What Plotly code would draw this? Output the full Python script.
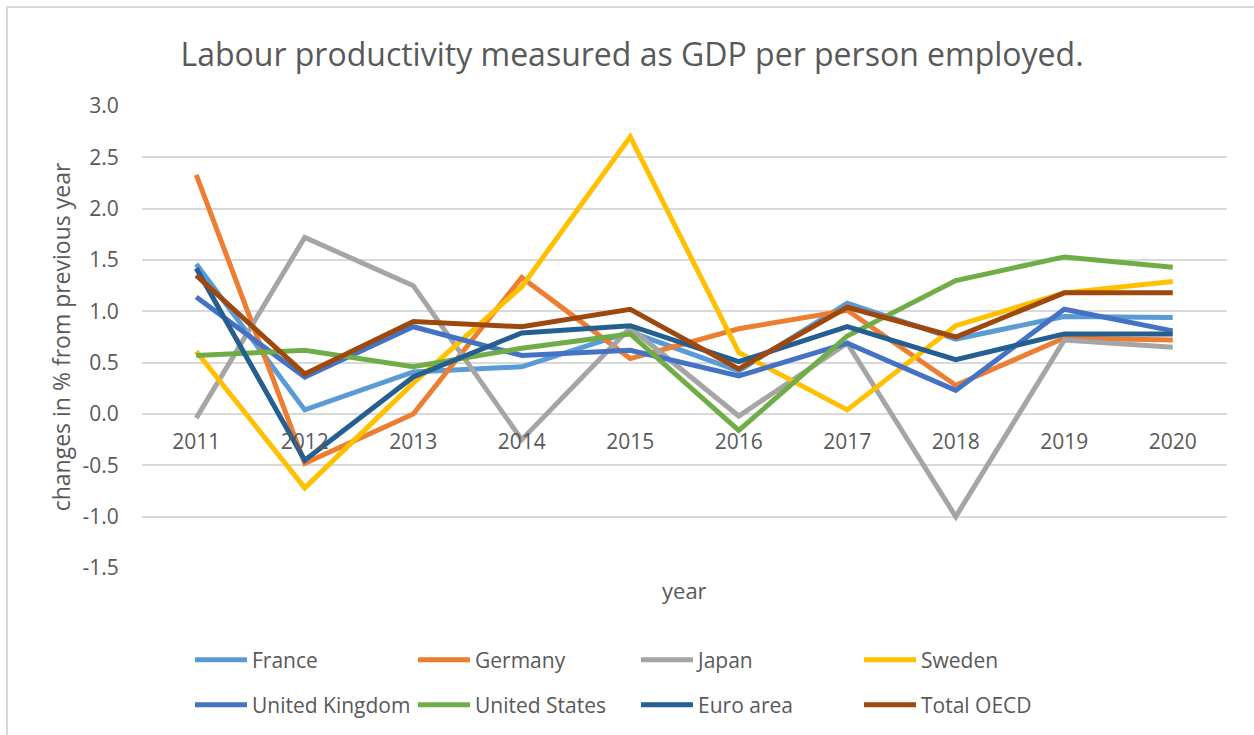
import plotly.graph_objects as go

years = ["2011", "2012", "2013", "2014", "2015", "2016", "2017", "2018", "2019", "2020"]

france = [1.46, 0.04, 0.41, 0.46, 0.80, 0.42, 1.08, 0.73, 0.95, 0.94]
germany = [2.33, -0.48, 0.00, 1.33, 0.54, 0.83, 1.01, 0.28, 0.74, 0.72]
japan = [-0.04, 1.72, 1.25, -0.25, 0.84, -0.02, 0.69, -1.00, 0.72, 0.65]
sweden = [0.61, -0.72, 0.30, 1.24, 2.70, 0.60, 0.04, 0.86, 1.18, 1.29]
united_kingdom = [1.14, 0.36, 0.85, 0.57, 0.62, 0.37, 0.69, 0.23, 1.02, 0.81]
united_states = [0.57, 0.62, 0.46, 0.64, 0.78, -0.16, 0.76, 1.30, 1.53, 1.43]
euro_area = [1.42, -0.45, 0.36, 0.79, 0.86, 0.51, 0.85, 0.53, 0.78, 0.78]
total_oecd = [1.35, 0.39, 0.90, 0.85, 1.02, 0.44, 1.04, 0.75, 1.18, 1.18]

series_names = ["France", "Germany", "Japan", "Sweden",
                "United Kingdom", "United States", "Euro area", "Total OECD"]
series_values = [france, germany, japan, sweden,
                 united_kingdom, united_states, euro_area, total_oecd]
series_colors = ["#5B9BD5", "#ED7D31", "#A5A5A5", "#FFC000",
                 "#4472C4", "#70AD47", "#255E91", "#9E480E"]

y_tick_values = [-1.5, -1.0, -0.5, 0.0, 0.5, 1.0, 1.5, 2.0, 2.5, 3.0]
y_tick_labels = ["-1.5", "-1.0", "-0.5", "0.0", "0.5", "1.0", "1.5", "2.0", "2.5", "3.0"]

FONT = "Open Sans"
TXT = "#595959"

fig = go.Figure()
for i, (name, vals, col) in enumerate(zip(series_names, series_values, series_colors)):
    fig.add_trace(go.Scatter(
        x=years, y=vals, name=name, mode="lines",
        line=dict(color=col, width=5),
        legend="legend" if i < 4 else "legend2",
    ))

W, H = 1254, 735
L, R, T, B = 142, 27, 106, 167
pw, ph = W - L - R, H - T - B

fig.update_layout(
    width=W, height=H,
    margin=dict(l=L, r=R, t=T, b=B),
    paper_bgcolor="white", plot_bgcolor="white",
    font=dict(family=FONT, color=TXT, size=21),
    title=dict(text="Labour productivity measured as GDP per person employed.",
               x=632 / W, xanchor="center", xref="container",
               y=1 - 55 / H, yanchor="middle", yref="container",
               font=dict(size=32, color=TXT, family=FONT)),
    xaxis=dict(type="category", range=[-0.5, 9.5], anchor="free",
               position=1.5 / 4.5, showgrid=False, showline=False, zeroline=False,
               ticks="outside", ticklen=9, tickcolor="rgba(0,0,0,0)",
               tickfont=dict(size=21, color=TXT)),
    yaxis=dict(range=[-1.5, 3.0], tickvals=y_tick_values, ticktext=y_tick_labels,
               showgrid=True, gridcolor="#D9D9D9", gridwidth=1.5,
               zeroline=False, showline=False,
               ticks="outside", ticklen=18, tickcolor="rgba(0,0,0,0)",
               tickfont=dict(size=21, color=TXT),
               title=dict(text="changes in % from previous year", standoff=5,
                          font=dict(size=23, color=TXT))),
    legend=dict(orientation="h", xref="container", yref="container",
                x=190 / W, xanchor="left", y=1 - 660 / H, yanchor="middle",
                entrywidth=156, entrywidthmode="pixels", itemwidth=52,
                font=dict(size=21, color=TXT), bgcolor="rgba(0,0,0,0)"),
    legend2=dict(orientation="h", xref="container", yref="container",
                 x=190 / W, xanchor="left", y=1 - 705 / H, yanchor="middle",
                 entrywidth=156, entrywidthmode="pixels", itemwidth=52,
                 font=dict(size=21, color=TXT), bgcolor="rgba(0,0,0,0)"),
    showlegend=True,
)

fig.add_annotation(text="year", xref="paper", yref="paper",
                   x=0.5, y=(568 - 590) / ph, xanchor="center", yanchor="middle",
                   showarrow=False, font=dict(size=22, color=TXT, family=FONT))

# chart-area border
fig.add_shape(type="rect", xref="paper", yref="paper",
              x0=(7 - L) / pw, x1=(W + 20 - L) / pw,
              y0=-(H + 20 - T - ph) / ph, y1=1 + (T - 7) / ph,
              line=dict(color="#D9D9D9", width=2), fillcolor="rgba(0,0,0,0)",
              layer="below")

fig.write_html("out.html", config={"displayModeBar": False},
               post_script="document.body.style.margin='0';")
